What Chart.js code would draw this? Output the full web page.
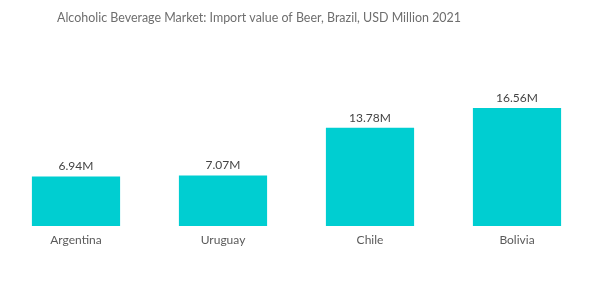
<!DOCTYPE html>
<html>
<head>
<meta charset="utf-8">
<script src="https://cdn.jsdelivr.net/npm/chart.js@4"></script>
<style>
  html, body { margin: 0; padding: 0; background: #fff; }
  #wrap { width: 600px; height: 302px; }
</style>
</head>
<body>
<div id="wrap"><canvas id="beerChart" width="600" height="302"></canvas></div>
<script>
const categories = ['Argentina', 'Uruguay', 'Chile', 'Bolivia'];
const importValues = [6.94, 7.07, 13.78, 16.56];
const valueLabels = ['6.94M', '7.07M', '13.78M', '16.56M'];
const chartTitle = 'Alcoholic Beverage Market: Import value of Beer, Brazil, USD Million 2021';

// Draw title and value labels above the bars
const labelPlugin = {
  id: 'labelPlugin',
  afterDatasetsDraw(chart) {
    const ctx = chart.ctx;
    ctx.save();
    ctx.fillStyle = '#6e6e6e';
    ctx.font = '13.5px Lato';
    ctx.textAlign = 'left';
    ctx.textBaseline = 'middle';
    ctx.fillText(chartTitle, 57, 18, 404);

    ctx.fillStyle = '#444';
    ctx.font = '12px Lato';
    ctx.textAlign = 'center';
    ctx.textBaseline = 'bottom';
    chart.getDatasetMeta(0).data.forEach((bar, i) => {
      ctx.fillText(valueLabels[i], bar.x, bar.y - 4);
    });
    ctx.restore();
  }
};

const beerChart = new Chart(document.getElementById('beerChart').getContext('2d'), {
  type: 'bar',
  data: {
    labels: categories,
    datasets: [{
      data: importValues,
      backgroundColor: '#00ced1',
      borderWidth: 0,
      categoryPercentage: 1,
      barPercentage: 0.6
    }]
  },
  options: {
    responsive: false,
    animation: false,
    layout: { padding: { top: 83.5, left: 2.5, right: 9.5, bottom: 47.7 } },
    plugins: {
      legend: { display: false },
      tooltip: { enabled: false }
    },
    scales: {
      x: {
        grid: { display: false, drawTicks: false },
        border: { display: false },
        ticks: { color: '#5a5a5a', font: { family: 'Lato', size: 12 }, padding: 7 }
      },
      y: {
        display: false,
        min: 0,
        max: 20
      }
    }
  },
  plugins: [labelPlugin]
});
</script>
</body>
</html>
